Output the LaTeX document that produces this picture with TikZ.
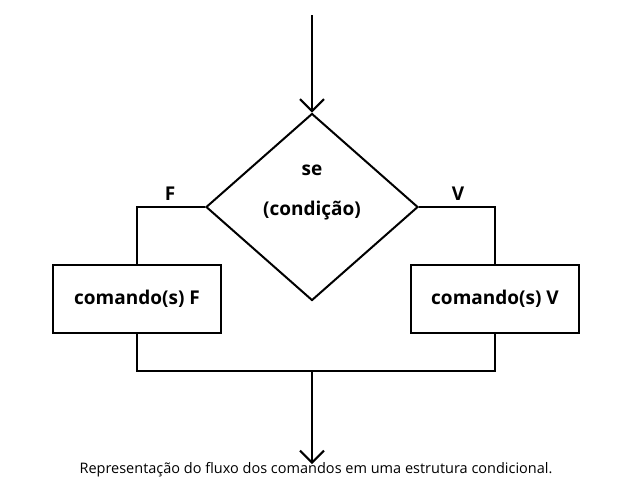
\documentclass[tikz,border=0pt]{standalone}
\usepackage{fontspec}
\setmainfont{Open Sans}
\usetikzlibrary{shapes.geometric,arrows.meta,positioning}
\tikzset{
  line/.style={draw=black, line width=2pt},
  cmdbox/.style={rectangle, draw=black, line width=2pt, minimum width=168pt, minimum height=68pt, font=\fontsize{19}{22}\selectfont\bfseries},
  decision/.style={diamond, draw=black, line width=2pt, minimum width=212pt, minimum height=187pt, inner sep=0pt},
  flow/.style={line, -{Straight Barb[length=12pt,width=24pt,line width=2pt]}},
  lbl/.style={font=\fontsize{19}{22}\selectfont\bfseries}
}
\begin{document}
\begin{tikzpicture}[x=1pt,y=-1pt]
\useasboundingbox (0,0) rectangle (626,488);
%Nodes
\node[decision] (cond) at (312,207) {};
\node[lbl] (se) at (312,170) {se};
\node[lbl] (condtxt) at (312,211) {(condição)};
\node[cmdbox] (cmdF) at (137,299) {comando(s) F};
\node[cmdbox] (cmdV) at (495,299) {comando(s) V};
\coordinate (top) at (312,15);
\coordinate (join) at (312,371);
\coordinate (out) at (312,464);
%Connectors
\draw[flow] (top) -- (cond.north);
\draw[line] (cond.west) -| (cmdF.north);
\draw[line] (cond.east) -| (cmdV.north);
\draw[line] (cmdF.south) |- (join) -| (cmdV.south);
\draw[flow] (join) -- (out);
%Labels
\node[lbl] (lF) at (170,194) {F};
\node[lbl] (lV) at (458,194) {V};
\node[font=\fontsize{14.5}{17}\selectfont] (cap) at (316,470) {Representação do fluxo dos comandos em uma estrutura condicional.};
\end{tikzpicture}
\end{document}
